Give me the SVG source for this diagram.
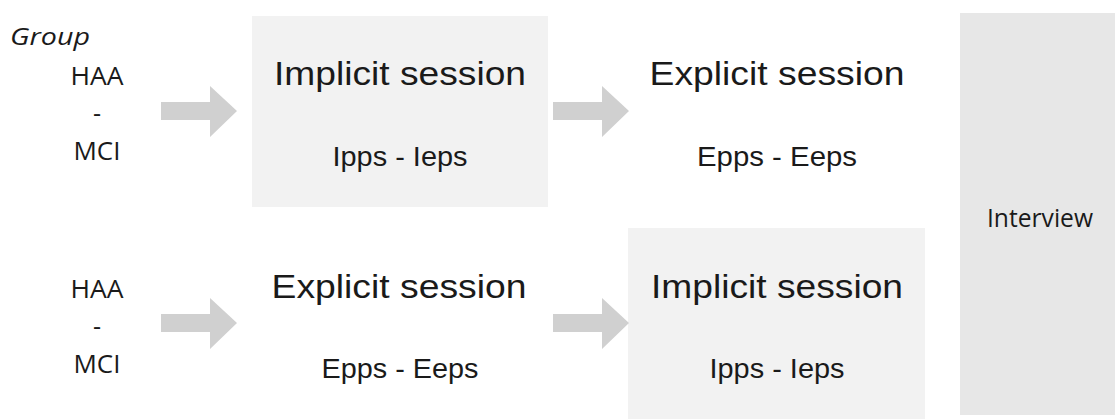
<svg xmlns="http://www.w3.org/2000/svg" width="1115" height="419" viewBox="0 0 1115 419">
<style>
.box{fill:#f2f2f2}
.iv{fill:#e7e7e7}
.h{font-family:"Liberation Sans",Arial,sans-serif;font-size:33px;fill:#1a1a1a;text-anchor:middle}
.s{font-family:"Liberation Sans",Arial,sans-serif;font-size:28px;fill:#1a1a1a;text-anchor:middle}
.g{font-family:"Open Sans","Noto Sans",sans-serif;font-size:25px;fill:#1a1a1a;text-anchor:middle}
.arr{fill:#d0d0d0}
</style>
<defs>
<polygon id="ar" points="0,16 49,16 49,0 76,25 49,51 49,34 0,34"/>
</defs>
<rect width="1115" height="419" fill="#ffffff"/>
<text x="10" y="45" font-family="'Open Sans','Noto Sans',sans-serif" font-size="24" font-style="italic" fill="#1a1a1a" textLength="80" lengthAdjust="spacingAndGlyphs">Group</text>
<g id="group1">
<text class="g" x="97" y="85" textLength="53" lengthAdjust="spacingAndGlyphs">HAA</text>
<text class="g" x="97" y="122">-</text>
<text class="g" x="97" y="160" textLength="47" lengthAdjust="spacingAndGlyphs">MCI</text>
</g>
<g id="group2">
<text class="g" x="97" y="298" textLength="53" lengthAdjust="spacingAndGlyphs">HAA</text>
<text class="g" x="97" y="335">-</text>
<text class="g" x="97" y="373" textLength="47" lengthAdjust="spacingAndGlyphs">MCI</text>
</g>
<g id="implicit1">
<rect class="box" x="252" y="16" width="296" height="191"/>
<text class="h" x="400" y="85" textLength="252" lengthAdjust="spacingAndGlyphs">Implicit session</text>
<text class="s" x="400" y="166" textLength="135" lengthAdjust="spacingAndGlyphs">Ipps - Ieps</text>
</g>
<g id="explicit1">
<text class="h" x="777" y="85" textLength="255" lengthAdjust="spacingAndGlyphs">Explicit session</text>
<text class="s" x="777" y="166" textLength="160" lengthAdjust="spacingAndGlyphs">Epps - Eeps</text>
</g>
<g id="explicit2">
<text class="h" x="399" y="298" textLength="255" lengthAdjust="spacingAndGlyphs">Explicit session</text>
<text class="s" x="400" y="378" textLength="157" lengthAdjust="spacingAndGlyphs">Epps - Eeps</text>
</g>
<g id="implicit2">
<rect class="box" x="628" y="228" width="297" height="191"/>
<text class="h" x="777" y="298" textLength="252" lengthAdjust="spacingAndGlyphs">Implicit session</text>
<text class="s" x="777" y="378" textLength="135" lengthAdjust="spacingAndGlyphs">Ipps - Ieps</text>
</g>
<g id="interview">
<rect class="iv" x="960" y="13" width="155" height="402"/>
<text class="g" x="1040" y="227" font-size="21" textLength="106" lengthAdjust="spacingAndGlyphs">Interview</text>
</g>
<g id="connectors">
<use href="#ar" class="arr" x="161" y="86"/>
<use href="#ar" class="arr" x="553" y="86"/>
<use href="#ar" class="arr" x="161" y="298"/>
<use href="#ar" class="arr" x="553" y="298"/>
</g>
</svg>
